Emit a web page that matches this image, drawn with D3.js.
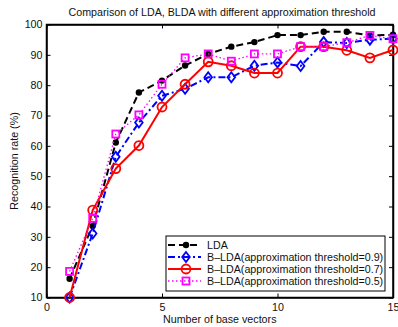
<!DOCTYPE html>
<html>
<head>
<meta charset="utf-8">
<script src="https://cdn.jsdelivr.net/npm/d3@7"></script>
<style>
  body { margin: 0; background: #fff; }
  text { font-family: "Liberation Sans", Arial, sans-serif; }
</style>
</head>
<body>
<div id="chart"></div>
<script>
// data
var numVectors = [1, 2, 3, 4, 5, 6, 7, 8, 9, 10, 11, 12, 13, 14, 15];
var ldaValues  = [16.2, 33.6, 61.1, 77.6, 81.5, 86.5, 90.3, 92.7, 94.2, 96.5, 96.5, 97.6, 97.6, 96.4, 96.6];
var blda09     = [10, 31.1, 56.4, 67.7, 76.5, 78.8, 82.6, 82.6, 86.4, 87.5, 86.3, 94.2, 93.9, 95, 95.3];
var blda07     = [10, 38.8, 52.5, 60.1, 72.8, 80.3, 87.7, 86.4, 84, 84, 92.7, 92.7, 91.5, 89, 91.6];
var blda05     = [18.6, 36.1, 63.9, 70.2, 80.3, 89, 90.3, 87.9, 90.3, 90.3, 92.7, 92.7, 94, 96.4, 95.3];
var xTicks = [0, 5, 10, 15];
var yTicks = [10, 20, 30, 40, 50, 60, 70, 80, 90, 100];
var seriesNames = [
  "LDA",
  "B\u2013LDA(approximation threshold=0.9)",
  "B\u2013LDA(approximation threshold=0.7)",
  "B\u2013LDA(approximation threshold=0.5)"
];

var w = 398, h = 327;
var padL = 46.5, padR = 393, padT = 24.5, padB = 297.5;
var fs = 10.7;

var svg = d3.select("#chart").append("svg")
  .attr("width", w)
  .attr("height", h);

var x = d3.scaleLinear().domain([0, 15]).range([padL, padR]);
var y = d3.scaleLinear().domain([10, 100]).range([padB, padT]);

// axes with inward ticks, mirrored on top/right like matlab
var tickLen = 4;
svg.append("g")
  .attr("transform", "translate(0," + padB + ")")
  .call(d3.axisBottom(x).tickValues(xTicks).tickSizeInner(-tickLen).tickSizeOuter(0).tickPadding(6));
svg.append("g")
  .attr("transform", "translate(0," + padT + ")")
  .call(d3.axisTop(x).tickValues(xTicks).tickSizeInner(-tickLen).tickSizeOuter(0).tickFormat(""));
svg.append("g")
  .attr("transform", "translate(" + padL + ",0)")
  .call(d3.axisLeft(y).tickValues(yTicks).tickSizeInner(-tickLen).tickSizeOuter(0).tickPadding(4));
svg.append("g")
  .attr("transform", "translate(" + padR + ",0)")
  .call(d3.axisRight(y).tickValues(yTicks).tickSizeInner(-tickLen).tickSizeOuter(0).tickFormat(""));

svg.selectAll(".domain").attr("stroke", "#000").attr("stroke-width", 1.5);
svg.selectAll(".tick line").attr("stroke", "#000");
svg.selectAll(".tick text").attr("font-size", fs).attr("fill", "#111")
  .style("font-family", "Liberation Sans, Arial, sans-serif");

svg.append("rect")
  .attr("x", padL).attr("y", padT)
  .attr("width", padR - padL).attr("height", padB - padT)
  .attr("fill", "none").attr("stroke", "#000").attr("stroke-width", 1.5);

// labels
svg.append("text")
  .attr("x", 222).attr("y", 16)
  .attr("text-anchor", "middle").attr("font-size", fs).attr("fill", "#111")
  .text("Comparison of LDA, BLDA with different approximation threshold");
svg.append("text")
  .attr("x", (padL + padR) / 2).attr("y", 323)
  .attr("text-anchor", "middle").attr("font-size", fs).attr("fill", "#111")
  .text("Number of base vectors");
svg.append("text")
  .attr("transform", "translate(18," + ((padT + padB) / 2) + ") rotate(-90)")
  .attr("text-anchor", "middle").attr("font-size", fs).attr("fill", "#111")
  .text("Recognition rate (%)");

var series = [
  { vals: ldaValues, color: "#000", dash: "7,4", width: 2, marker: "dot" },
  { vals: blda09, color: "#0000ff", dash: "7,3,2,3", width: 2, marker: "diamond" },
  { vals: blda07, color: "#ff0000", dash: null, width: 2, marker: "circle" },
  { vals: blda05, color: "#ff00ff", dash: "1.5,2.5", width: 1.3, marker: "square" }
];

var line = d3.line()
  .x((d, i) => x(numVectors[i]))
  .y((d) => y(d));

function drawMarker(g, type, color, cx, cy) {
  if (type === "dot") {
    g.append("circle").attr("cx", cx).attr("cy", cy).attr("r", 3.2).attr("fill", color);
  } else if (type === "circle") {
    g.append("circle").attr("cx", cx).attr("cy", cy).attr("r", 4.5)
      .attr("fill", "none").attr("stroke", color).attr("stroke-width", 1.8);
  } else if (type === "diamond") {
    g.append("path")
      .attr("d", "M" + cx + "," + (cy - 5) + "L" + (cx + 3.8) + "," + cy + "L" + cx + "," + (cy + 5) + "L" + (cx - 3.8) + "," + cy + "Z")
      .attr("fill", "none").attr("stroke", color).attr("stroke-width", 1.8);
  } else {
    g.append("rect").attr("x", cx - 3.5).attr("y", cy - 3.5).attr("width", 7).attr("height", 7)
      .attr("fill", "none").attr("stroke", color).attr("stroke-width", 1.8);
  }
}

var plot = svg.append("g");
series.forEach((s) => {
  plot.append("path")
    .datum(s.vals)
    .attr("d", line)
    .attr("fill", "none")
    .attr("stroke", s.color)
    .attr("stroke-width", s.width)
    .attr("stroke-dasharray", s.dash);
  var mg = plot.append("g");
  s.vals.forEach((d, i) => {
    drawMarker(mg, s.marker, s.color, x(numVectors[i]), y(d));
  });
});

// legend
var lg = svg.append("g");
lg.append("rect")
  .attr("x", 166).attr("y", 236).attr("width", 219).attr("height", 55)
  .attr("fill", "#fff").attr("stroke", "#000").attr("stroke-width", 1);
var rowY = [245, 257, 269, 281];
series.forEach((s, i) => {
  lg.append("line")
    .attr("x1", 168).attr("x2", 201)
    .attr("y1", rowY[i]).attr("y2", rowY[i])
    .attr("stroke", s.color).attr("stroke-width", s.width)
    .attr("stroke-dasharray", s.dash);
  drawMarker(lg, s.marker, s.color, 186, rowY[i]);
  lg.append("text")
    .attr("x", 207).attr("y", rowY[i] + 4)
    .attr("font-size", fs).attr("fill", "#111")
    .text(seriesNames[i]);
});
</script>
</body>
</html>
